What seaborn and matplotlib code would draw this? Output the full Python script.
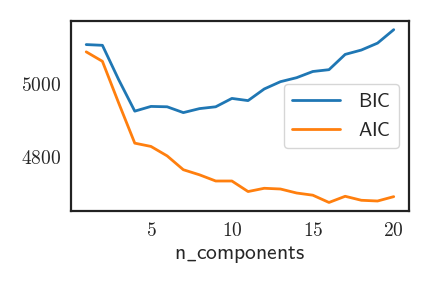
import pandas as pd
import matplotlib
matplotlib.use("Agg")
import matplotlib.pyplot as plt
import seaborn as sns
from matplotlib.ticker import FuncFormatter

# valori
n_components = list(range(1, 21))
bic = [5107, 5105, 5011, 4924, 4937, 4936, 4920, 4931, 4936, 4959,
       4953, 4985, 5005, 5016, 5033, 5038, 5080, 5092, 5111, 5148]
aic = [5087, 5061, 4947, 4836, 4827, 4801, 4763, 4749, 4732, 4732,
       4703, 4712, 4710, 4699, 4693, 4673, 4690, 4679, 4677, 4689]

df = pd.DataFrame({
    "n_components": n_components * 2,
    "score": bic + aic,
    "criterion": [r"$\mathsf{BIC}$"] * len(bic) + [r"$\mathsf{AIC}$"] * len(aic),
})

sns.set_style("white")
plt.rcParams["mathtext.fontset"] = "cm"

fig, ax = plt.subplots(figsize=(4.32, 2.88), dpi=100)
sns.lineplot(data=df, x="n_components", y="score", hue="criterion",
             palette=["#1f77b4", "#ff7f0e"], lw=2, ax=ax)

ax.xaxis.set_major_formatter(FuncFormatter(lambda v, p: f"${v:g}$"))
ax.yaxis.set_major_formatter(FuncFormatter(lambda v, p: f"${v:g}$"))
ax.set_xticks([5, 10, 15, 20])
ax.set_yticks([4800, 5000])
ax.tick_params(labelsize=14)
ax.set_xlabel(r"$\mathsf{n\_components}$", fontsize=15.5, labelpad=3)
ax.set_ylabel("")
for s in ax.spines.values():
    s.set_linewidth(1.6)
    s.set_color("#222222")

ax.legend(loc="center right", fontsize=14.5, handlelength=2.4, handletextpad=0.9)

fig.subplots_adjust(left=0.164, right=0.947, top=0.927, bottom=0.267)
fig.savefig("out.png")
